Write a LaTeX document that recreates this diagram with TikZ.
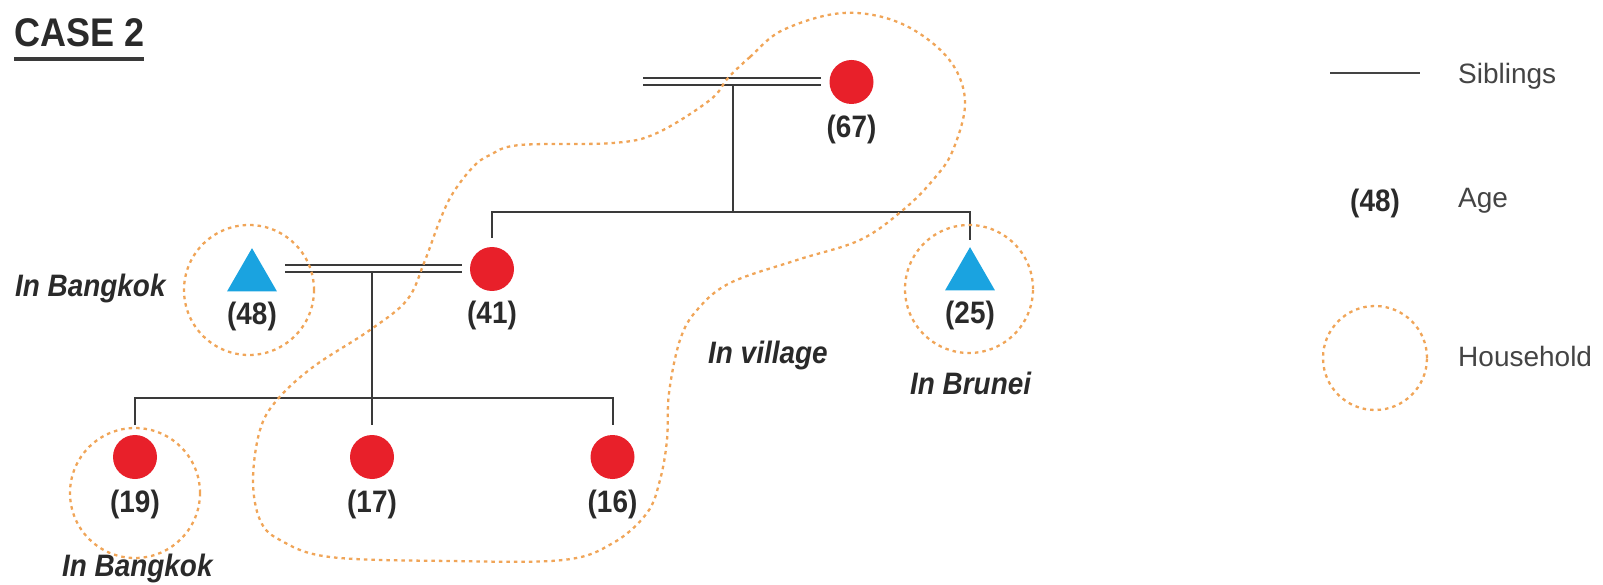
\documentclass[tikz,border=0pt]{standalone}
\usepackage{fontspec}
\setmainfont{Liberation Sans}
\newfontfamily\bfc[FakeStretch=0.9]{Liberation Sans}
\usetikzlibrary{shapes.geometric,calc}
\definecolor{fem}{HTML}{E8202A}
\definecolor{mal}{HTML}{1AA3E0}
\definecolor{hh}{HTML}{F0A558}
\definecolor{ln}{HTML}{3A3A3A}
\definecolor{tx}{HTML}{2A2A2A}
\definecolor{lg}{HTML}{444444}
\begin{document}
\begin{tikzpicture}[x=1pt,y=-1pt,
  female/.style={circle,fill=fem,minimum size=44pt,inner sep=0pt},
  male/.style={regular polygon,regular polygon sides=3,fill=mal,minimum size=57.7pt,inner sep=0pt},
  age/.style={text=tx,font=\bfc\bfseries\fontsize{31}{31}\selectfont,inner sep=0pt},
  place/.style={text=tx,font=\bfc\bfseries\itshape\fontsize{31}{31}\selectfont,inner sep=0pt},
  legtext/.style={text=lg,font=\fontsize{28}{28}\selectfont,inner sep=0pt,anchor=base west},
  household/.style={circle,draw=hh,line width=2.3pt,dash pattern=on 3.5pt off 4pt,inner sep=0pt},
  lin/.style={draw=ln,line width=2pt},
  dbl/.style={draw=ln,line width=2pt,double=white,double distance=5pt}]
\useasboundingbox (0,0) rectangle (1603,585);

% title
\node[text=tx,font=\bfc\bfseries\fontsize{40}{40}\selectfont,inner sep=0pt,anchor=base west] (title) at (14,47) {CASE 2};
\draw[ln,line width=4pt] (title.south west |- 0,59.5) coordinate (u1) -- (title.south east |- 0,59.5) coordinate (u2);

% people
\node[female] (p67) at (851.5,82) {};
\node[female] (p41) at (492,269) {};
\node[male] (p48) at (252,277) {};
\node[male] (p25) at (970,276) {};
\node[female] (p19) at (135,457) {};
\node[female] (p17) at (372,457) {};
\node[female] (p16) at (612.5,457) {};

% ages
\node[age] (a67) at (851.5,129) {(67)};
\node[age] (a41) at (492,315) {(41)};
\node[age] (a48) at (252,316) {(48)};
\node[age] (a25) at (970,315) {(25)};
\node[age] (a19) at (135,504) {(19)};
\node[age] (a17) at (372,504) {(17)};
\node[age] (a16) at (612.5,504) {(16)};

% marriages and siblings
\coordinate (m1a) at (643,81.5);
\coordinate (m1c) at (733,85);
\coordinate (s1) at (733,212);
\draw[dbl] (m1a) -- ($(p67.west)+(-8,-0.5)$);
\draw[lin] (m1c) -- (s1);
\draw[lin] ($(p41.north)+(0,-9)$) |- (s1) -| ($(p25.north)+(0,-7)$);

\coordinate (m2a) at (285,268.5);
\coordinate (m2c) at (372,272);
\coordinate (s2) at (372,398);
\draw[dbl] (m2a) -- ($(p41.west)+(-8,-0.5)$);
\draw[lin] (m2c) -- (s2);
\draw[lin] ($(p19.north)+(0,-10)$) |- (s2) -| ($(p16.north)+(0,-10)$);
\draw[lin] (s2) -- ($(p17.north)+(0,-10)$);

% households
\node[household,minimum size=130pt] (h48) at (249,290) {};
\node[household,minimum size=128pt] (h25) at (969,289) {};
\node[household,minimum size=130pt] (h19) at (135,493) {};
\draw[draw=hh,line width=2.3pt,dash pattern=on 3.5pt off 4pt] plot[smooth cycle,tension=0.6] coordinates {
 (728,78) (750,57) (783,30) (843,13) (900,23) (947,57) (965,100) (953,150)
 (933,180) (903,210) (860,240) (797,260) (730,283) (697,310) (680,340)
 (669,393) (667,440) (660,480) (647,513) (613,543) (563,560) (450,561)
 (330,557) (280,540) (260,520) (253,480) (260,430) (277,400) (313,367)
 (370,330) (407,300) (424,263) (440,220) (453,193) (473,167) (490,155)
 (520,145) (613,143) (657,133) (710,100)};

% place labels
\node[place,anchor=base west] (t1) at (15,297) {In Bangkok};
\node[place,anchor=base west] (t2) at (62,576) {In Bangkok};
\node[place,anchor=base west] (t3) at (910,394) {In Brunei};
\node[place,anchor=base west] (t4) at (708,363) {In village};

% legend
\coordinate (l1) at (1330,73);
\coordinate (l2) at (1420,73);
\draw[draw=lg,line width=2pt] (l1) -- (l2);
\node[legtext] (k1) at (1458,84) {Siblings};
\node[age] (k2a) at (1375,203) {(48)};
\node[legtext] (k2) at (1458,208) {Age};
\node[household,minimum size=104pt] (k3a) at (1375,358) {};
\node[legtext] (k3) at (1458,366) {Household};
\end{tikzpicture}
\end{document}
